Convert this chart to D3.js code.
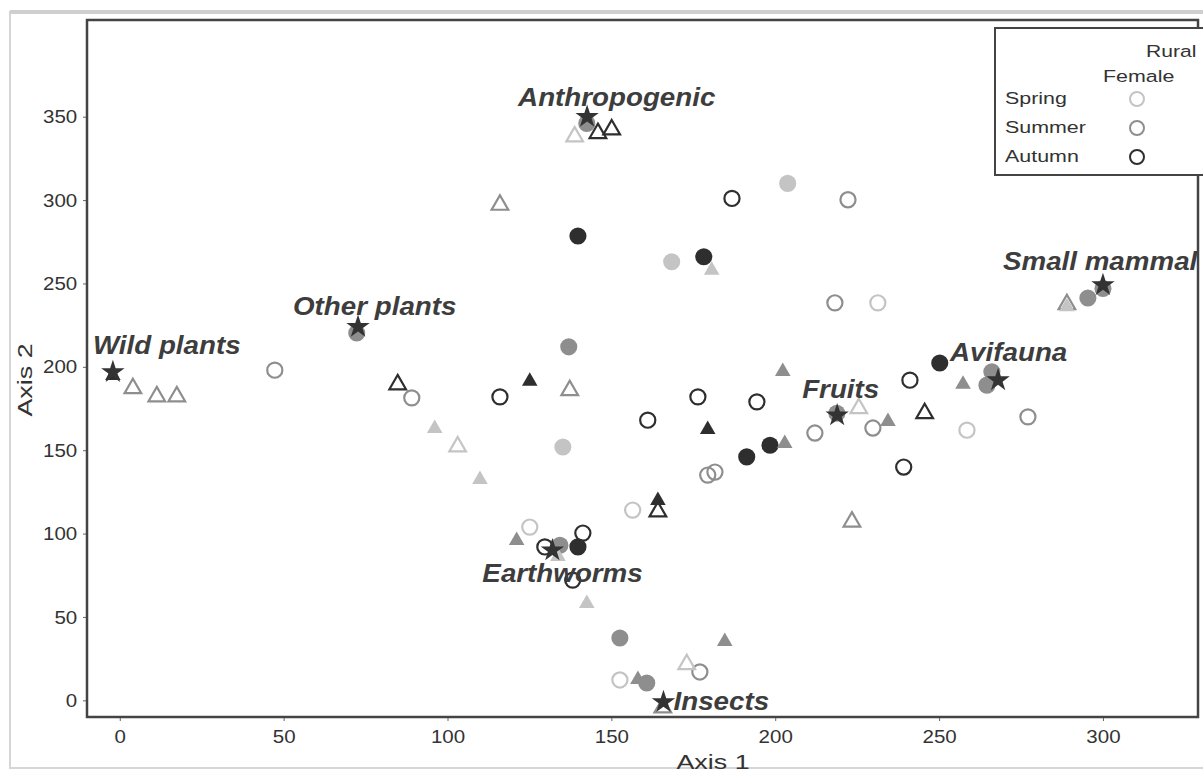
<!DOCTYPE html>
<html>
<head>
<meta charset="utf-8">
<script src="https://cdn.jsdelivr.net/npm/d3@7"></script>
<style>
  body { margin: 0; background: #fff; }
  svg { font-family: "Liberation Sans", Arial, sans-serif; }
</style>
</head>
<body>
<div id="chart"></div>
<script>
// female = circle, male = triangle; rural = open, urban = filled
const femaleRuralSpring = [[125.1, 103.9], [156.5, 114.1], [152.6, 12.2], [231.3, 238.4], [258.5, 162]];
const femaleRuralSummer = [[47.3, 198], [89.1, 181.4], [222.2, 300.2], [218.2, 238.4], [212.1, 160.3],
  [229.8, 163.3], [277.1, 170], [179.4, 135.1], [181.6, 136.9], [177, 17]];
const femaleRuralAutumn = [[116, 182], [161.1, 168], [176.4, 182], [194.4, 179], [186.8, 301],
  [241.1, 192], [239.2, 139.9], [141.3, 100.3], [129.7, 92], [138.2, 72.1]];

const femaleUrbanSpring = [[168.4, 263], [203.8, 310], [135.2, 151.9]];
const femaleUrbanSummer = [[137, 212], [264.6, 189], [266.1, 197], [295.4, 241.3], [300, 247],
  [218.8, 172.2], [142.5, 346], [72.3, 220.3], [134.3, 93], [152.6, 37.4], [160.8, 10.4]];
const femaleUrbanAutumn = [[139.8, 278.5], [178.2, 266], [191.3, 146], [198.4, 153], [250.2, 202.3], [139.8, 92]];

const maleRuralSpring = [[103.1, 153.1], [138.8, 339], [225.5, 176], [173, 22.5]];
const maleRuralSummer = [[4, 188], [11.3, 183.1], [17.4, 183.1], [116, 298], [137.3, 186.8],
  [223.4, 108], [289, 238.4], [165.7, -3.4]];
const maleRuralAutumn = [[84.8, 190.3], [145.9, 341], [150.1, 343.2], [164.2, 114.1], [245.6, 173]];

const maleUrbanSpring = [[96.1, 163.9], [109.9, 133.3], [133.7, 87.2], [142.5, 58.9], [180.6, 258.8], [289, 237]];
const maleUrbanSummer = [[121.1, 96.7], [202.3, 198.1], [202.9, 154.9], [234.4, 168.1], [257.3, 190.4],
  [184.6, 36.2], [158.1, 13.4]];
const maleUrbanAutumn = [[-2.1, 195.7], [125.1, 192.2], [179.4, 163.3], [164.2, 120.7]];

// food categories (stars)
const foodNames = ['Wild plants', 'Other plants', 'Anthropogenic', 'Small mammal',
  'Avifauna', 'Fruits', 'Earthworms', 'Insects'];
const foodX = [-2.1, 72.7, 142.6, 300, 268, 218.9, 132, 165.9];
const foodY = [196.9, 224, 350, 249, 192, 171, 90, -1];

const xTicks = [0, 50, 100, 150, 200, 250, 300];
const yTicks = [0, 50, 100, 150, 200, 250, 300, 350];
const seasons = ['Spring', 'Summer', 'Autumn'];

// pixel offsets of the labels from their star
const labelOffset = {
  'Wild plants': [-20, -18], 'Other plants': [-65, -12], 'Anthropogenic': [-69, -11],
  'Small mammal': [-100, -15], 'Avifauna': [-48, -19], 'Fruits': [-35, -17],
  'Earthworms': [-70, 32], 'Insects': [10, 8]
};

const seasonColor = { Spring: '#c4c4c4', Summer: '#8e8e8e', Autumn: '#2e2e2e' };

const width = 1203, height = 772;
const svg = d3.select('#chart').append('svg')
  .attr('width', width)
  .attr('height', height);

// the scanned figure uses a wide face, so text is stretched a little
function wideText(sel, px, py, sx) {
  return sel.attr('transform', `translate(${px}, ${py}) scale(${sx}, 1)`);
}

// faint scan frame
svg.append('rect')
  .attr('x', 10).attr('y', 12)
  .attr('width', 1210).attr('height', 756)
  .attr('fill', 'none')
  .attr('stroke', '#d6d6d6')
  .attr('stroke-width', 2);
svg.append('line')
  .attr('x1', 10).attr('x2', 1203)
  .attr('y1', 12).attr('y2', 12)
  .attr('stroke', '#cfcfcf')
  .attr('stroke-width', 4);

const plotLeft = 87, plotRight = 1198, plotTop = 20, plotBottom = 717;
const x = d3.scaleLinear().domain([-10, 329]).range([plotLeft, plotRight]);
const y = d3.scaleLinear().domain([-10, 408]).range([plotBottom, plotTop]);

// axes
const axisX = svg.append('g')
  .attr('transform', `translate(0, ${plotBottom})`)
  .call(d3.axisBottom(x).tickValues(xTicks).tickSizeInner(4).tickSizeOuter(0).tickPadding(9));
const axisY = svg.append('g')
  .attr('transform', `translate(${plotLeft}, 0)`)
  .call(d3.axisLeft(y).tickValues(yTicks).tickSizeInner(4).tickSizeOuter(0).tickPadding(5));

[axisX, axisY].forEach(a => {
  a.select('.domain').remove();
  a.selectAll('line').attr('stroke', '#666');
  a.selectAll('text')
    .attr('fill', '#333')
    .attr('transform', 'scale(1.08, 1)')
    .style('font-size', '19px')
    .style('font-family', '"Liberation Sans", Arial, sans-serif');
});

svg.append('rect')
  .attr('x', plotLeft).attr('y', plotTop)
  .attr('width', plotRight - plotLeft).attr('height', plotBottom - plotTop)
  .attr('fill', 'none')
  .attr('stroke', '#444')
  .attr('stroke-width', 2.5);

wideText(svg.append('text'), 713, 769, 1.28)
  .attr('text-anchor', 'middle')
  .attr('fill', '#333')
  .style('font-size', '21px')
  .text('Axis 1');

svg.append('text')
  .attr('transform', 'translate(32, 380) rotate(-90) scale(1.28, 1)')
  .attr('text-anchor', 'middle')
  .attr('fill', '#333')
  .style('font-size', '21px')
  .text('Axis 2');

// point groups
const groups = [
  { data: femaleRuralSpring, shape: 'circle', open: true, season: 'Spring' },
  { data: femaleRuralSummer, shape: 'circle', open: true, season: 'Summer' },
  { data: femaleRuralAutumn, shape: 'circle', open: true, season: 'Autumn' },
  { data: maleRuralSpring, shape: 'triangle', open: true, season: 'Spring' },
  { data: maleRuralSummer, shape: 'triangle', open: true, season: 'Summer' },
  { data: maleRuralAutumn, shape: 'triangle', open: true, season: 'Autumn' },
  { data: femaleUrbanSpring, shape: 'circle', open: false, season: 'Spring' },
  { data: femaleUrbanSummer, shape: 'circle', open: false, season: 'Summer' },
  { data: femaleUrbanAutumn, shape: 'circle', open: false, season: 'Autumn' },
  { data: maleUrbanSpring, shape: 'triangle', open: false, season: 'Spring' },
  { data: maleUrbanSummer, shape: 'triangle', open: false, season: 'Summer' },
  { data: maleUrbanAutumn, shape: 'triangle', open: false, season: 'Autumn' }
];

const circleSym = d3.symbol().type(d3.symbolCircle);
const triSym = d3.symbol().type(d3.symbolTriangle);

const pointLayer = svg.append('g');
groups.forEach(g => {
  const col = seasonColor[g.season];
  pointLayer.selectAll(null)
    .data(g.data)
    .enter()
    .append('path')
    .attr('transform', d => `translate(${x(d[0])}, ${y(d[1]) + (g.shape === 'triangle' ? 1.5 : 0)})`)
    .attr('d', g.shape === 'circle'
      ? (g.open ? circleSym.size(180)() : circleSym.size(230)())
      : (g.open ? triSym.size(120)() : triSym.size(105)()))
    .attr('fill', g.open ? 'none' : col)
    .attr('stroke', g.open ? col : 'none')
    .attr('stroke-width', g.open ? 2.2 : 0);
});

// stars and labels
const starSym = d3.symbol().type(d3.symbolStar).size(170);
const foods = foodNames.map((n, i) => ({ name: n, fx: foodX[i], fy: foodY[i] }));

svg.append('g').selectAll('path')
  .data(foods)
  .enter()
  .append('path')
  .attr('transform', d => `translate(${x(d.fx)}, ${y(d.fy)})`)
  .attr('d', starSym())
  .attr('fill', '#333');

svg.append('g').selectAll('text')
  .data(foods)
  .enter()
  .append('text')
  .attr('transform', d => `translate(${x(d.fx) + labelOffset[d.name][0]}, ${y(d.fy) + labelOffset[d.name][1]}) scale(1.11, 1)`)
  .attr('fill', '#3d3d3d')
  .style('font-size', '25px')
  .style('font-weight', 'bold')
  .style('font-style', 'italic')
  .text(d => d.name);

// legend (its box runs past the right edge like the source)
const legend = svg.append('g');
legend.append('rect')
  .attr('x', 995).attr('y', 28)
  .attr('width', 260).attr('height', 147)
  .attr('fill', '#fff')
  .attr('stroke', '#444')
  .attr('stroke-width', 2);

wideText(legend.append('text'), 1146, 57, 1.24)
  .attr('fill', '#333')
  .style('font-size', '17px')
  .text('Rural');

wideText(legend.append('text'), 1103, 82, 1.26)
  .attr('fill', '#333')
  .style('font-size', '17px')
  .text('Female');

const legendY = d3.scalePoint().domain(seasons).range([104, 162]);
seasons.forEach(s => {
  wideText(legend.append('text'), 1005, legendY(s), 1.26)
    .attr('fill', '#333')
    .style('font-size', '17px')
    .text(s);
  legend.append('circle')
    .attr('cx', 1137).attr('cy', legendY(s) - 5)
    .attr('r', 7)
    .attr('fill', 'none')
    .attr('stroke', seasonColor[s])
    .attr('stroke-width', 2);
});
</script>
</body>
</html>
